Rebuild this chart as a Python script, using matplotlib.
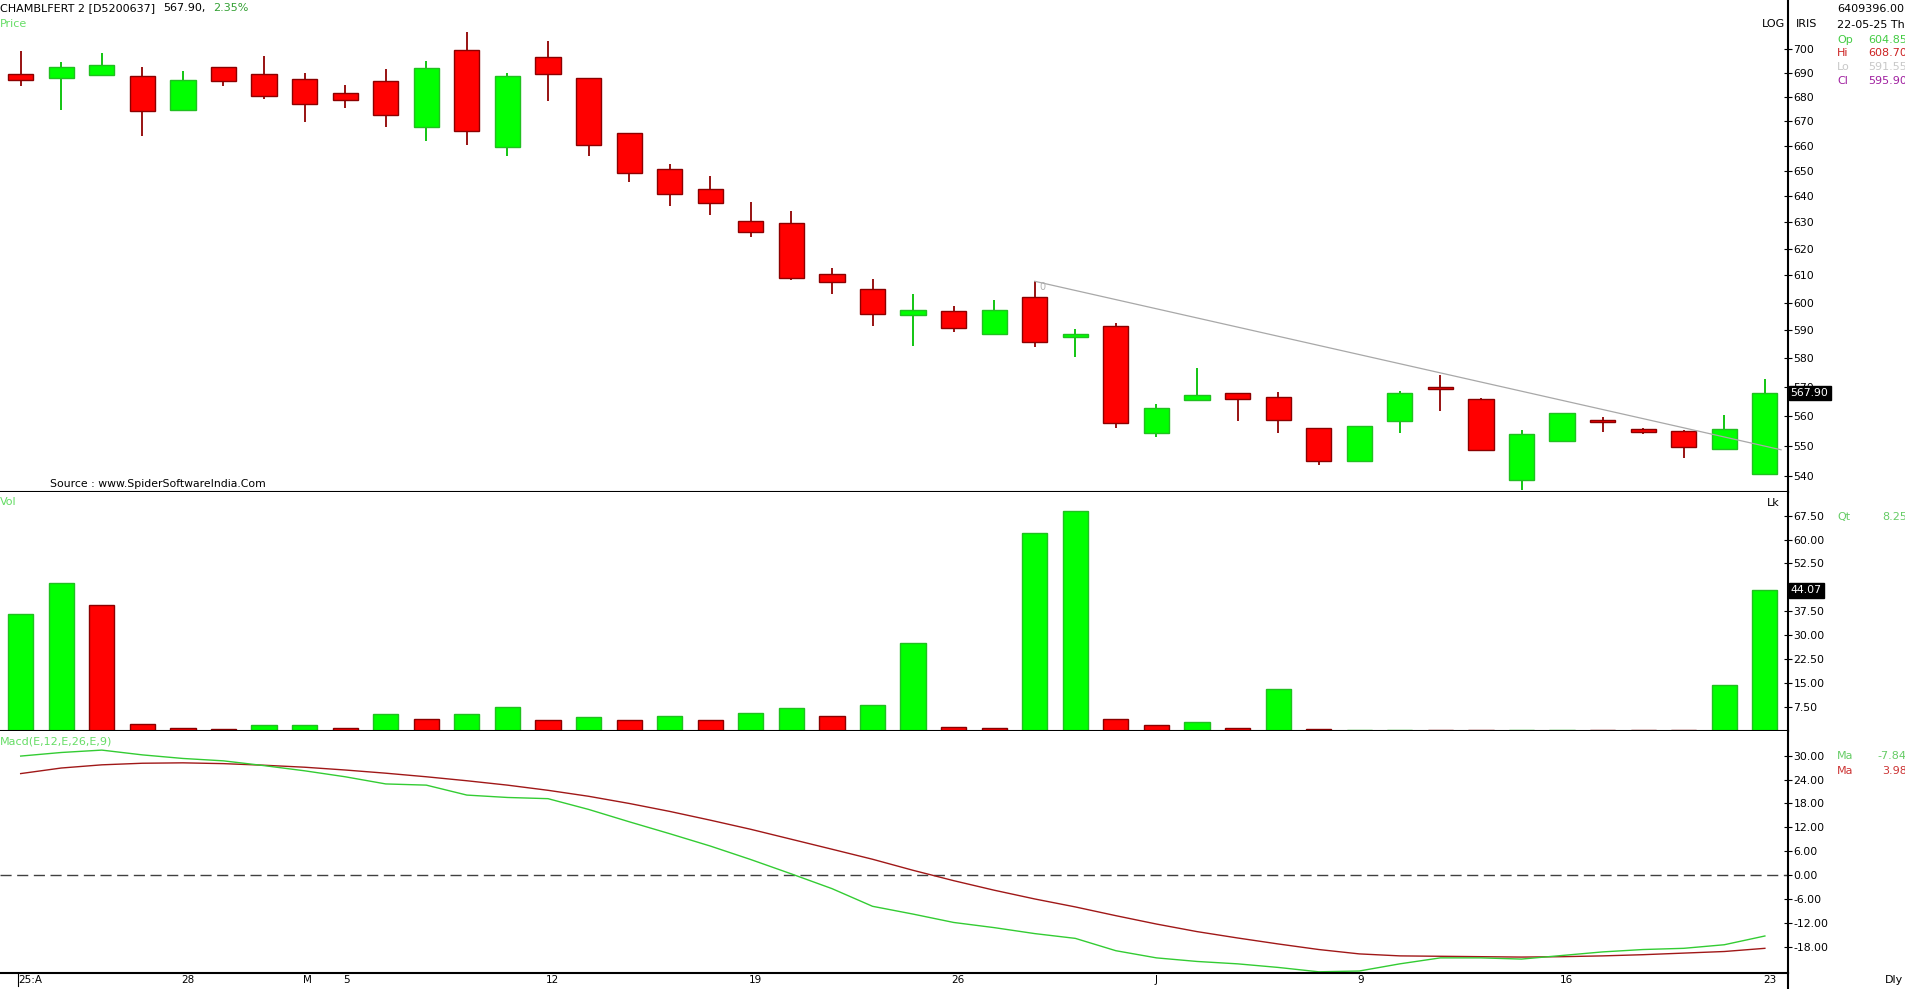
import matplotlib
matplotlib.use('Agg')
import matplotlib.pyplot as plt
from matplotlib.ticker import NullLocator
from matplotlib.transforms import blended_transform_factory
from matplotlib.lines import Line2D
import numpy as np

# daily candles 22-Apr-2025 .. 23-Jun-2025
opens = [689.6, 687.9, 689.2, 688.5, 674.4, 692.4, 689.5, 687.3, 681.6, 686.4,
         667.4, 699.6, 659.6, 696.6, 687.8, 665.0, 650.7, 642.8, 630.4, 629.6,
         610.5, 604.85, 595.6, 597.1, 588.6, 601.9, 587.5, 591.5, 554.3, 565.4,
         567.9, 566.4, 555.9, 545.0, 558.4, 570.0, 565.8, 538.5, 551.6, 558.8,
         555.7, 554.9, 548.9, 540.5]
highs = [699.3, 694.4, 698.4, 692.3, 690.9, 692.6, 697.0, 690.0, 684.8, 691.4,
         695.1, 707.3, 690.0, 703.5, 687.9, 665.2, 652.6, 647.9, 638.0, 634.4,
         612.7, 608.70, 603.2, 598.9, 600.9, 607.8, 590.5, 592.7, 564.1, 576.7,
         568.0, 568.2, 556.0, 556.7, 568.6, 574.0, 566.0, 555.2, 560.9, 559.5,
         555.9, 555.1, 560.2, 572.6]
lows = [684.6, 674.6, 689.0, 664.0, 674.0, 684.3, 678.9, 669.6, 675.5, 667.7,
        662.1, 660.4, 655.9, 678.2, 655.9, 645.6, 636.3, 632.7, 624.3, 608.4,
        603.3, 591.55, 584.2, 589.2, 588.4, 584.0, 580.4, 555.9, 553.0, 565.2,
        558.3, 554.3, 543.6, 544.8, 554.3, 561.7, 548.4, 535.5, 551.4, 554.5,
        553.8, 545.9, 548.7, 540.3]
closes = [687.0, 692.4, 693.4, 674.0, 686.9, 686.6, 680.4, 676.9, 678.7, 672.3,
          691.9, 665.8, 688.6, 689.3, 660.4, 649.3, 640.8, 637.3, 626.4, 609.1,
          607.7, 595.90, 597.4, 590.6, 597.4, 585.6, 588.8, 557.7, 562.7, 567.2,
          565.8, 558.7, 545.0, 556.7, 567.9, 569.1, 548.6, 553.8, 560.9, 558.1,
          554.6, 549.6, 555.7, 567.9]

# volume in lakhs, with the colour the chart gives each bar
volume = [36.8, 46.3, 39.4, 2.1, 1.0, 0.6, 1.8, 1.8, 1.0, 5.2,
          3.7, 5.2, 7.5, 3.3, 4.4, 3.3, 4.8, 3.3, 5.6, 7.1,
          4.8, 8.25, 27.6, 1.4, 1.0, 61.9, 69.1, 3.7, 1.8, 2.9,
          1.0, 13.2, 0.5, 0.3, 0.3, 0.3, 0.3, 0.3, 0.3, 0.3,
          0.3, 0.3, 14.3, 44.07]
vol_up = [1, 1, 0, 0, 0, 0, 1, 1, 0, 1,
          0, 1, 1, 0, 1, 0, 1, 0, 1, 1,
          0, 1, 1, 0, 0, 1, 1, 0, 0, 1,
          0, 1, 0, 1, 1, 0, 0, 1, 1, 0,
          0, 0, 1, 1]

# MACD(12,26,9): macd line (green) and signal (red)
macd = [29.9, 30.8, 31.4, 30.2, 29.3, 28.7, 27.5, 26.2, 24.7, 22.9,
        22.6, 20.1, 19.5, 19.2, 16.5, 13.4, 10.4, 7.3, 3.9, 0.3,
        -3.4, -7.84, -9.8, -11.9, -13.2, -14.7, -15.9, -19.0, -20.8, -21.7,
        -22.3, -23.2, -24.3, -24.1, -22.3, -20.8, -20.8, -21.1, -20.2, -19.3,
        -18.7, -18.4, -17.5, -15.3]
signal = [25.5, 26.9, 27.7, 28.1, 28.2, 28.0, 27.6, 27.1, 26.4, 25.6,
          24.7, 23.7, 22.6, 21.3, 19.8, 18.0, 16.0, 13.8, 11.5, 9.0,
          6.5, 3.98, 1.2, -1.4, -3.8, -6.0, -8.0, -10.2, -12.3, -14.2,
          -15.8, -17.3, -18.7, -19.8, -20.3, -20.4, -20.5, -20.6, -20.5, -20.3,
          -20.0, -19.6, -19.2, -18.4]

date_pos = [0, 4, 7, 8, 13, 18, 23, 28, 33, 38, 43]
date_labels = ["25:A", "28", "M", "5", "12", "19", "26", "J", "9", "16", "23"]

price_ticks = list(range(540, 701, 10))
vol_ticks = [7.5, 15, 22.5, 30, 37.5, 52.5, 60, 67.5]
macd_ticks = [-18, -12, -6, 0, 6, 12, 18, 24, 30]

# trend line drawn on the chart (from 29-May high to the right edge)
trend_x = [25, 43.4]
trend_y = [607.8, 548.6]

W, H = 1906, 989
GREEN = '#00ff00'
RED = '#ff0000'
LBL = '#66dd66'


def fx(px):
    return px / W


def fy(py):
    return 1 - py / H


fig = plt.figure(figsize=(W / 100, H / 100), dpi=100)
right = fx(1788)
axp = fig.add_axes([0, fy(492), right, fy(0) - fy(492)])
axv = fig.add_axes([0, fy(731), right, fy(492) - fy(731)], sharex=axp)
axm = fig.add_axes([0, fy(973), right, fy(731) - fy(973)], sharex=axp)

for ax in (axp, axv, axm):
    for s in ('top', 'left'):
        ax.spines[s].set_visible(False)
    for s in ('right', 'bottom'):
        ax.spines[s].set_linewidth(1.5)
        ax.spines[s].set_color('black')
    ax.yaxis.tick_right()
    ax.tick_params(axis='y', which='major', direction='inout', length=6,
                   width=0.8, labelsize=7.8, pad=1)
    ax.tick_params(axis='x', which='both', length=0, labelbottom=False)
    ax.set_facecolor('white')

x = np.arange(len(opens))
o = np.array(opens)
c = np.array(closes)
up = c >= o

# --- price panel ---
axp.set_yscale('log')
wick_col = [('#00c000' if u else '#900000') for u in up]
axp.vlines(x, lows, highs, colors=wick_col, linewidth=1.3, zorder=2)
bottoms = np.minimum(o, c)
heights = np.maximum(np.abs(c - o), 0.6)
axp.bar(x, heights, bottom=bottoms, width=0.62,
        color=[GREEN if u else RED for u in up],
        edgecolor=['#20c020' if u else '#8b0000' for u in up],
        linewidth=1.0, zorder=3)
axp.plot(trend_x, trend_y, color='#a8a8a8', linewidth=0.9, zorder=4)
axp.text(25.12, 604.5, '0', color='#b0b0b0', fontsize=7, zorder=5)
axp.set_ylim(534.7, 721.2)
axp.set_yticks(price_ticks)
axp.set_yticklabels([str(t) for t in price_ticks])
axp.yaxis.set_minor_locator(NullLocator())
axp.set_xlim(-0.51, 43.57)

tp = blended_transform_factory(axp.transAxes, axp.transData)
axp.text(1.0015, closes[-1], '%.2f' % closes[-1], transform=tp, color='white',
         fontsize=7.8, va='center', ha='left', zorder=10,
         bbox=dict(boxstyle='square,pad=0.2', fc='black', ec='black'))

# --- volume panel ---
axv.bar(x, volume, width=0.62,
        color=[GREEN if u else RED for u in vol_up],
        edgecolor=['#20c020' if u else '#8b0000' for u in vol_up],
        linewidth=1.0)
axv.set_ylim(0, 74.9)
axv.set_yticks(vol_ticks)
axv.set_yticklabels(['%.2f' % t for t in vol_ticks])
tv = blended_transform_factory(axv.transAxes, axv.transData)
axv.text(1.0015, volume[-1], '%.2f' % volume[-1], transform=tv, color='white',
         fontsize=7.8, va='center', ha='left', zorder=10,
         bbox=dict(boxstyle='square,pad=0.2', fc='black', ec='black'))

# --- MACD panel ---
axm.axhline(0, color='#404040', linewidth=1.0, linestyle=(0, (8, 4)))
axm.plot(x, signal, color='#a01818', linewidth=1.0)
axm.plot(x, macd, color='#33cc33', linewidth=1.0)
axm.set_ylim(-24.6, 36.2)
axm.set_yticks(macd_ticks)
axm.set_yticklabels(['%.2f' % t for t in macd_ticks])

# date labels under the MACD panel
td = blended_transform_factory(axm.transData, fig.transFigure)
for p, lab in zip(date_pos, date_labels):
    axm.text(p - 0.05, fy(980), lab, transform=td, fontsize=7.5,
             ha='left', va='center')
fig.add_artist(Line2D([right, right], [0, fy(973)], color='black', linewidth=1.5))
fig.add_artist(Line2D([fx(18), fx(18)], [fy(974), fy(986)], color='black', linewidth=0.8))

# header / labels
fs = 8
fig.text(fx(0), fy(8), 'CHAMBLFERT 2 [D5200637]', fontsize=fs, va='center')
fig.text(fx(163), fy(8), '567.90,', fontsize=fs, va='center')
fig.text(fx(213), fy(8), '2.35%', fontsize=fs, va='center', color='#33a033')
fig.text(fx(0), fy(24), 'Price', fontsize=fs, va='center', color=LBL)
fig.text(fx(50), fy(484), 'Source : www.SpiderSoftwareIndia.Com', fontsize=7.8,
         va='center')
fig.text(fx(0), fy(502), 'Vol', fontsize=fs, va='center', color=LBL)
fig.text(fx(0), fy(742), 'Macd(E,12,E,26,E,9)', fontsize=fs, va='center', color=LBL)
fig.text(fx(1762), fy(24), 'LOG', fontsize=fs, va='center')
fig.text(fx(1796), fy(24), 'IRIS', fontsize=fs, va='center')
fig.text(fx(1767), fy(503), 'Lk', fontsize=fs, va='center')
fig.text(fx(1885), fy(980), 'Dly', fontsize=fs, va='center')

# info box on the right
fig.text(fx(1837), fy(9), '6409396.00', fontsize=fs, va='center')
fig.text(fx(1837), fy(25), '22-05-25 Th', fontsize=fs, va='center')
info = [('Op', '604.85', '#44cc44', 40), ('Hi', '608.70', '#cc2222', 53),
        ('Lo', '591.55', '#c8c8c8', 67), ('Cl', '595.90', '#a020a0', 81)]
for k, v, col, py in info:
    fig.text(fx(1837), fy(py), k, fontsize=fs, va='center', color=col)
    fig.text(fx(1868), fy(py), v, fontsize=fs, va='center', color=col)
fig.text(fx(1837), fy(517), 'Qt', fontsize=fs, va='center', color='#66cc66')
fig.text(fx(1882), fy(517), '8.25', fontsize=fs, va='center', color='#66cc66')
fig.text(fx(1837), fy(756), 'Ma', fontsize=fs, va='center', color='#66cc66')
fig.text(fx(1877), fy(756), '-7.84', fontsize=fs, va='center', color='#66cc66')
fig.text(fx(1837), fy(771), 'Ma', fontsize=fs, va='center', color='#cc3333')
fig.text(fx(1882), fy(771), '3.98', fontsize=fs, va='center', color='#cc3333')

fig.savefig('out.png', dpi=100, facecolor='white')
